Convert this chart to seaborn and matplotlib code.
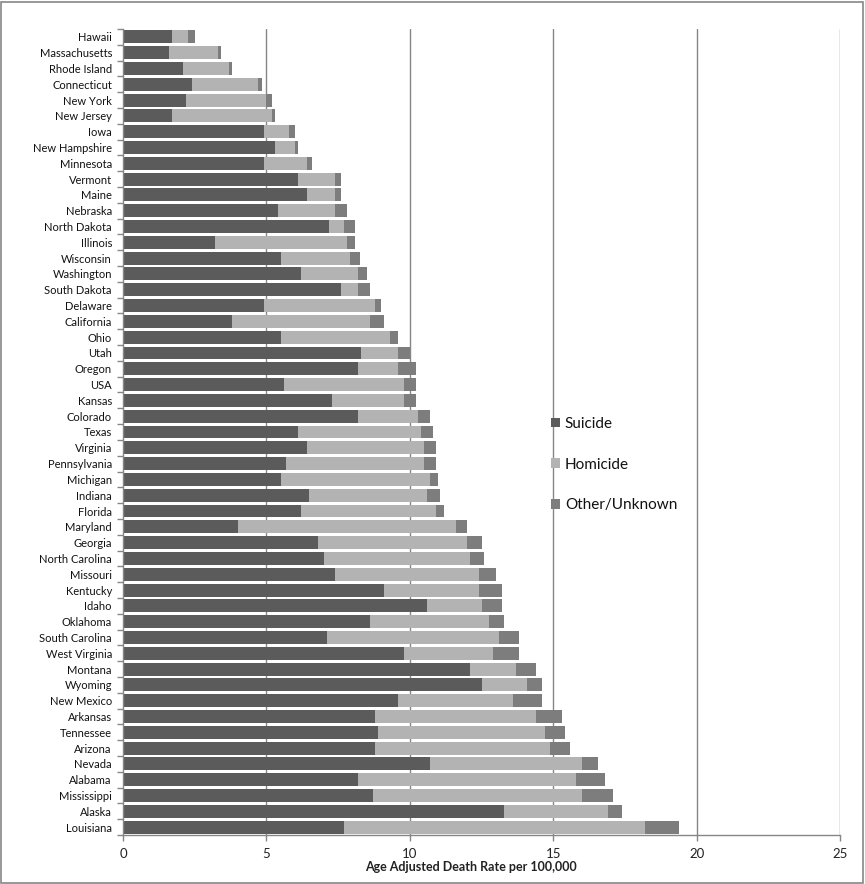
import matplotlib
matplotlib.use("Agg")
import matplotlib.pyplot as plt
import seaborn as sns
import pandas as pd
import numpy as np
from matplotlib.patches import Patch, Rectangle

states = ["Hawaii", "Massachusetts", "Rhode Island", "Connecticut", "New York", "New Jersey",
          "Iowa", "New Hampshire", "Minnesota", "Vermont", "Maine", "Nebraska", "North Dakota",
          "Illinois", "Wisconsin", "Washington", "South Dakota", "Delaware", "California", "Ohio",
          "Utah", "Oregon", "USA", "Kansas", "Colorado", "Texas", "Virginia", "Pennsylvania",
          "Michigan", "Indiana", "Florida", "Maryland", "Georgia", "North Carolina", "Missouri",
          "Kentucky", "Idaho", "Oklahoma", "South Carolina", "West Virginia", "Montana", "Wyoming",
          "New Mexico", "Arkansas", "Tennessee", "Arizona", "Nevada", "Alabama", "Mississippi",
          "Alaska", "Louisiana"]

suicide = [1.7, 1.6, 2.1, 2.4, 2.2, 1.7,
           4.9, 5.3, 4.9, 6.1, 6.4, 5.4, 7.2,
           3.2, 5.5, 6.2, 7.6, 4.9, 3.8, 5.5,
           8.3, 8.2, 5.6, 7.3, 8.2, 6.1, 6.4, 5.7,
           5.5, 6.5, 6.2, 4.0, 6.8, 7.0, 7.4,
           9.1, 10.6, 8.6, 7.1, 9.8, 12.1, 12.5,
           9.6, 8.8, 8.9, 8.8, 10.7, 8.2, 8.7,
           13.3, 7.7]

homicide = [0.56, 1.7, 1.6, 2.3, 2.8, 3.5,
            0.9, 0.7, 1.5, 1.3, 1.0, 2.0, 0.5,
            4.6, 2.4, 2.0, 0.6, 3.9, 4.8, 3.8,
            1.3, 1.4, 4.2, 2.5, 2.1, 4.3, 4.1, 4.8,
            5.2, 4.1, 4.7, 7.6, 5.2, 5.1, 5.0,
            3.3, 1.9, 4.15, 6.0, 3.1, 1.6, 1.6,
            4.0, 5.6, 5.8, 6.1, 5.3, 7.6, 7.3,
            3.6, 10.5]

other = [0.24, 0.1, 0.1, 0.15, 0.2, 0.1,
         0.2, 0.1, 0.2, 0.2, 0.2, 0.4, 0.4,
         0.3, 0.35, 0.3, 0.4, 0.2, 0.5, 0.3,
         0.4, 0.6, 0.4, 0.4, 0.4, 0.4, 0.4, 0.4,
         0.3, 0.45, 0.3, 0.4, 0.5, 0.5, 0.6,
         0.8, 0.7, 0.55, 0.7, 0.9, 0.7, 0.5,
         1.0, 0.9, 0.7, 0.7, 0.55, 1.0, 1.1,
         0.5, 1.2]

series_names = ["Suicide", "Homicide", "Other/Unknown"]
colors = {"Suicide": "#5b5b5b", "Homicide": "#b3b3b3", "Other/Unknown": "#7d7d7d"}

df = pd.DataFrame({"state": states, "suicide": suicide, "homicide": homicide, "other": other})
df["sh"] = df["suicide"] + df["homicide"]
df["total"] = df["sh"] + df["other"]

sns.set_theme(style="white")
plt.rcParams["font.family"] = ["Lato", "DejaVu Sans"]

fig = plt.figure(figsize=(8.65, 8.84), dpi=100)
ax = fig.add_axes([123/865, 1 - 835/884, (840 - 123)/865, (835 - 29)/884])

bw = 0.82
sns.barplot(data=df, y="state", x="total", color=colors["Other/Unknown"], orient="h",
            width=bw, saturation=1, ax=ax, linewidth=0, order=states)
sns.barplot(data=df, y="state", x="sh", color=colors["Homicide"], orient="h",
            width=bw, saturation=1, ax=ax, linewidth=0, order=states)
sns.barplot(data=df, y="state", x="suicide", color=colors["Suicide"], orient="h",
            width=bw, saturation=1, ax=ax, linewidth=0, order=states)

ax.set_xlim(0, 25)
ax.set_ylim(len(states) - 0.5, -0.5)
ax.set_xticks([0, 5, 10, 15, 20, 25])
ax.set_xticklabels(["0", "5", "10", "15", "20", "25"], fontsize=9.5, color="#222222")
ax.set_ylabel("")
ax.set_xlabel("Age Adjusted Death Rate per 100,000", fontsize=9, fontweight="bold",
              color="#222222")
ax.xaxis.set_label_coords(0.485, -0.032)
ax.xaxis.label.set_verticalalignment("top")
ax.tick_params(axis="y", which="major", length=0, labelsize=8, labelcolor="#111111", pad=8)
ax.set_yticks(np.arange(-0.5, len(states), 1.0), minor=True)
ax.tick_params(axis="y", which="minor", length=4, color="#868686", width=1, direction="out", left=True)
ax.tick_params(axis="x", which="major", length=4, color="#868686", width=1, direction="out",
               bottom=True, pad=5)

for xv in [5, 10, 15, 20, 25]:
    ax.axvline(xv, color="#868686", lw=1, zorder=0)

for s in ["top", "right"]:
    ax.spines[s].set_visible(False)
for s in ["left", "bottom"]:
    ax.spines[s].set_color("#868686")
    ax.spines[s].set_linewidth(1)

handles = [Patch(facecolor=colors[n], edgecolor="none", label=n) for n in series_names]
leg = ax.legend(handles=handles, loc="upper left", bbox_to_anchor=(551/865, 1 - 417/884),
                bbox_transform=fig.transFigure, frameon=False, fontsize=11,
                labelspacing=1.75, handlelength=0.6, handleheight=0.6, handletextpad=0.3,
                borderpad=0, borderaxespad=0)
for t in leg.get_texts():
    t.set_color("#111111")

fig.patches.append(Rectangle((0.001, 0.001), 0.997, 0.997, transform=fig.transFigure,
                             fill=False, edgecolor="#868686", lw=1.2))

fig.savefig("out.png", dpi=100)
